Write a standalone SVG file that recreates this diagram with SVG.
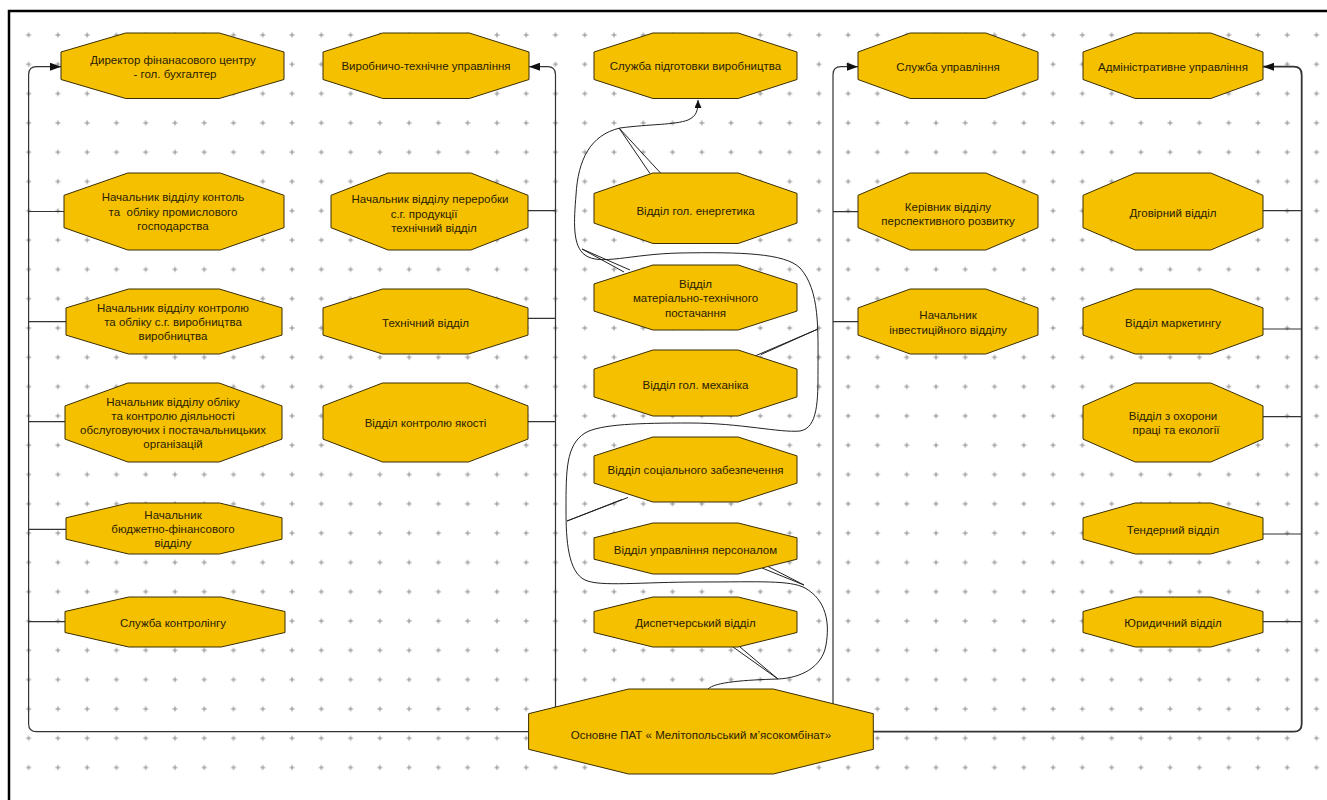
<svg xmlns="http://www.w3.org/2000/svg" width="1327" height="800" viewBox="0 0 1327 800">
  <defs>
    <style>
      .node polygon { fill: #F5C000; stroke: #3a2e00; stroke-width: 1; }
      .node text { font-family: "Liberation Sans", Arial, sans-serif; font-size: 11.5px; fill: #2a2100; text-anchor: middle; }
      .link { fill: none; stroke: #333; stroke-width: 1.2; }
      .thin { fill: none; stroke: #222; stroke-width: 1; }
    </style>
    <pattern id="grid" x="13.965" y="20.35" width="29.27" height="29.3" patternUnits="userSpaceOnUse">
      <path d="M12.15 14.65h5M14.65 12.15v5" stroke="#8a8a8a" stroke-width="1"/>
    </pattern>
    <marker id="arr" viewBox="0 0 11 8" refX="11" refY="4" markerWidth="11" markerHeight="8" orient="auto" markerUnits="userSpaceOnUse">
      <path d="M0,0L11,4L0,8z" fill="#111"/>
    </marker>
    <marker id="arr-s" viewBox="0 0 8 7" refX="8" refY="3.5" markerWidth="8" markerHeight="7" orient="auto" markerUnits="userSpaceOnUse">
      <path d="M0,0L8,3.5L0,7z" fill="#111"/>
    </marker>
  </defs>

  <!-- page -->
  <rect width="1327" height="800" fill="#fff"/>
  <rect x="14" y="20.35" width="1313" height="762" fill="url(#grid)"/>
  <path d="M9,800V11H1327" fill="none" stroke="#000" stroke-width="2.5"/>

  <g id="connectors">
    <!-- left trunk -->
    <path class="link" d="M528.6,731.7H36.6Q28.6,731.7 28.6,723.7V74.7Q28.6,66.7 36.6,66.7H61" marker-end="url(#arr)"/>
    <path class="link" d="M28.6,211.5H64M28.6,321.7H66M28.6,421.7H65M28.6,529.3H66M28.6,621.7H65"/>
    <!-- second trunk -->
    <path class="link" d="M555.5,707V74.7Q555.5,66.7 547.5,66.7H529" marker-end="url(#arr)"/>
    <path class="link" d="M528,210.7H555.5M528,318.3H555.5M528,421.7H555.5"/>
    <!-- third trunk -->
    <path class="link" d="M833,703.7V74.7Q833,66.7 841,66.7H858" marker-end="url(#arr)"/>
    <path class="link" d="M833,211.7H858M833,321.7H858"/>
    <!-- right trunk -->
    <path class="link" style="stroke-width:1.8" d="M873.3,731.7H1293.7Q1301.7,731.7 1301.7,723.7V74.7Q1301.7,66.7 1293.7,66.7H1263" marker-end="url(#arr)"/>
    <path class="link" d="M1263,210.7H1301.7M1263,329H1301.7M1263,416.7H1301.7M1263,534H1301.7M1263,621.7H1301.7"/>

    <!-- winding connector through the middle column -->
    <path class="thin" marker-end="url(#arr-s)" d="M708,689
      C715,682 745,680 778,679
      C800,678 822,668 826,645
      C830,622 826,600 805,588
      C790,580 760,582 700,582
      C640,582 600,587 585,580
      C568,572 566,540 566,510
      C566,470 566,445 585,433
      C600,424 640,423 690,423
      C740,423 780,433 800,431
      C818,428 818,400 818,370
      C818,330 820,290 800,268
      C785,253 740,252 680,253
      C630,254 600,266 585,255
      C572,246 574,220 576,195
      C578,160 590,135 620,128
      C650,124 675,125 688,120
      C697,116 698,110 698,100"/>
    <!-- branches off the winding connector -->
    <path class="thin" d="M619,128L650,173.5M619,128L661,173.5"/>
    <path class="thin" d="M582,249L624,272M582,249L630,270"/>
    <path class="thin" d="M818,329L755,356M818,329L761,354.5"/>
    <path class="thin" d="M567,521L622,499.5M567,521L628,497.5"/>
    <path class="thin" d="M804,585L762,568M804,585L768,566.5"/>
    <path class="thin" d="M778,679L733,647M778,679L740,647"/>
  </g>

  <!-- first column -->
  <g id="node-fin-director" class="node">
    <polygon points="125.7,33 219.3,33 284,52 284,79.5 219.3,98.5 125.7,98.5 61,79.5 61,52"/>
    <text x="173" y="63.5">Директор фінанасового центру</text>
    <text x="175" y="77.5">- гол. бухгалтер</text>
  </g>
  <g id="node-industrial-accounting" class="node">
    <polygon points="127.8,173 220.2,173 284,195.3 284,227.7 220.2,250 127.8,250 64,227.7 64,195.3"/>
    <text x="173" y="201">Начальник відділу контоль</text>
    <text x="173" y="215.5" style="white-space:pre">та  обліку промислового</text>
    <text x="173" y="230">господарства</text>
  </g>
  <g id="node-agri-accounting" class="node">
    <polygon points="128.6,289 219.4,289 282,307.9 282,335.1 219.4,354 128.6,354 66,335.1 66,307.9"/>
    <text x="173" y="311.5">Начальник відділу контролю</text>
    <text x="173" y="325.5">та обліку с.г. виробництва</text>
    <text x="173" y="339.5">виробництва</text>
  </g>
  <g id="node-suppliers-accounting" class="node">
    <polygon points="127.9,383 219.1,383 282,405.9 282,439.1 219.1,462 127.9,462 65,439.1 65,405.9"/>
    <text x="173" y="405.5">Начальник відділу обліку</text>
    <text x="173" y="419.5">та контролю діяльності</text>
    <text x="173" y="433.5">обслуговуючих і постачальницьких</text>
    <text x="173" y="447.5">організацій</text>
  </g>
  <g id="node-budget" class="node">
    <polygon points="128.6,503 219.4,503 282,517.8 282,539.2 219.4,554 128.6,554 66,539.2 66,517.8"/>
    <text x="173" y="519">Начальник</text>
    <text x="173" y="533">бюджетно-фінансового</text>
    <text x="173" y="547">відділу</text>
  </g>
  <g id="node-controlling" class="node">
    <polygon points="128.8,597 221.2,597 285,611.5 285,632.5 221.2,647 128.8,647 65,632.5 65,611.5"/>
    <text x="173" y="627">Служба контролінгу</text>
  </g>

  <!-- second column -->
  <g id="node-production-technical" class="node">
    <polygon points="382.7,33 469.3,33 529,52 529,79.5 469.3,98.5 382.7,98.5 323,79.5 323,52"/>
    <text x="426" y="70">Виробничо-технічне управління</text>
  </g>
  <g id="node-processing" class="node">
    <polygon points="388.1,173 470.9,173 528,195.3 528,227.7 470.9,250 388.1,250 331,227.7 331,195.3"/>
    <text x="430" y="203">Начальник відділу переробки</text>
    <text x="424" y="217.5">с.г. продукції</text>
    <text x="434" y="232">технічний відділ</text>
  </g>
  <g id="node-technical" class="node">
    <polygon points="382.5,289 468.5,289 528,307.9 528,335.1 468.5,354 382.5,354 323,335.1 323,307.9"/>
    <text x="425.5" y="327">Технічний відділ</text>
  </g>
  <g id="node-quality" class="node">
    <polygon points="382.5,383 468.5,383 528,405.9 528,439.1 468.5,462 382.5,462 323,439.1 323,405.9"/>
    <text x="425.5" y="426.5">Відділ контролю якості</text>
  </g>

  <!-- third column -->
  <g id="node-production-prep" class="node">
    <polygon points="652.9,33 738.1,33 797,52 797,79.5 738.1,98.5 652.9,98.5 594,79.5 594,52"/>
    <text x="695.5" y="70">Служба підготовки виробництва</text>
  </g>
  <g id="node-power" class="node">
    <polygon points="652.9,173 738.1,173 797,193.4 797,223.1 738.1,243.5 652.9,243.5 594,223.1 594,193.4"/>
    <text x="695.5" y="214.5">Відділ гол. енергетика</text>
  </g>
  <g id="node-supply" class="node">
    <polygon points="652.9,265 738.1,265 797,283.9 797,311.1 738.1,330 652.9,330 594,311.1 594,283.9"/>
    <text x="695.5" y="287.5">Відділ</text>
    <text x="695.5" y="302">матеріально-технічного</text>
    <text x="695.5" y="316.5">постачання</text>
  </g>
  <g id="node-mechanics" class="node">
    <polygon points="652.9,350 738.1,350 797,369.1 797,396.9 738.1,416 652.9,416 594,396.9 594,369.1"/>
    <text x="695.5" y="389">Відділ гол. механіка</text>
  </g>
  <g id="node-social" class="node">
    <polygon points="652.9,437 738.1,437 797,455.9 797,483.1 738.1,502 652.9,502 594,483.1 594,455.9"/>
    <text x="695.5" y="474">Відділ соціального забезпечення</text>
  </g>
  <g id="node-personnel" class="node">
    <polygon points="652.9,523 738.1,523 797,537.8 797,559.2 738.1,574 652.9,574 594,559.2 594,537.8"/>
    <text x="695.5" y="554">Відділ управління персоналом</text>
  </g>
  <g id="node-dispatch" class="node">
    <polygon points="652.9,597 738.1,597 797,611.5 797,632.5 738.1,647 652.9,647 594,632.5 594,611.5"/>
    <text x="695.5" y="627">Диспетчерський відділ</text>
  </g>
  <g id="node-company" class="node">
    <polygon points="628.6,689 773.3,689 873.3,713.7 873.3,749.3 773.3,774 628.6,774 528.6,749.3 528.6,713.7"/>
    <text x="701" y="739">Основне ПАТ « Мелітопольський м’ясокомбінат»</text>
  </g>

  <!-- fourth column -->
  <g id="node-management" class="node">
    <polygon points="910.2,33 985.8,33 1038,52 1038,79.5 985.8,98.5 910.2,98.5 858,79.5 858,52"/>
    <text x="948" y="70.5">Служба управління</text>
  </g>
  <g id="node-development" class="node">
    <polygon points="910.2,173 985.8,173 1038,195.3 1038,227.7 985.8,250 910.2,250 858,227.7 858,195.3"/>
    <text x="948" y="211">Керівник відділу</text>
    <text x="948" y="224.5">перспективного розвитку</text>
  </g>
  <g id="node-investment" class="node">
    <polygon points="910.2,289 985.8,289 1038,307.9 1038,335.1 985.8,354 910.2,354 858,335.1 858,307.9"/>
    <text x="948" y="319">Начальник</text>
    <text x="948" y="333.5">інвестиційного відділу</text>
  </g>

  <!-- fifth column -->
  <g id="node-administration" class="node">
    <polygon points="1135.2,33 1210.8,33 1263,52 1263,79.5 1210.8,98.5 1135.2,98.5 1083,79.5 1083,52"/>
    <text x="1173" y="70.5">Адміністративне управління</text>
  </g>
  <g id="node-contracts" class="node">
    <polygon points="1135.2,173 1210.8,173 1263,195.3 1263,227.7 1210.8,250 1135.2,250 1083,227.7 1083,195.3"/>
    <text x="1173" y="217">Дговірний відділ</text>
  </g>
  <g id="node-marketing" class="node">
    <polygon points="1135.2,289 1210.8,289 1263,307.9 1263,335.1 1210.8,354 1135.2,354 1083,335.1 1083,307.9"/>
    <text x="1173" y="327">Відділ маркетингу</text>
  </g>
  <g id="node-safety" class="node">
    <polygon points="1135.2,383 1210.8,383 1263,405.9 1263,439.1 1210.8,462 1135.2,462 1083,439.1 1083,405.9"/>
    <text x="1173" y="420">Відділ з охорони</text>
    <text x="1176" y="433.5">праці та екології</text>
  </g>
  <g id="node-tender" class="node">
    <polygon points="1135.2,503 1210.8,503 1263,517.8 1263,539.2 1210.8,554 1135.2,554 1083,539.2 1083,517.8"/>
    <text x="1173" y="534">Тендерний відділ</text>
  </g>
  <g id="node-legal" class="node">
    <polygon points="1135.2,597 1210.8,597 1263,611.5 1263,632.5 1210.8,647 1135.2,647 1083,632.5 1083,611.5"/>
    <text x="1173" y="626.5">Юридичний відділ</text>
  </g>
</svg>
